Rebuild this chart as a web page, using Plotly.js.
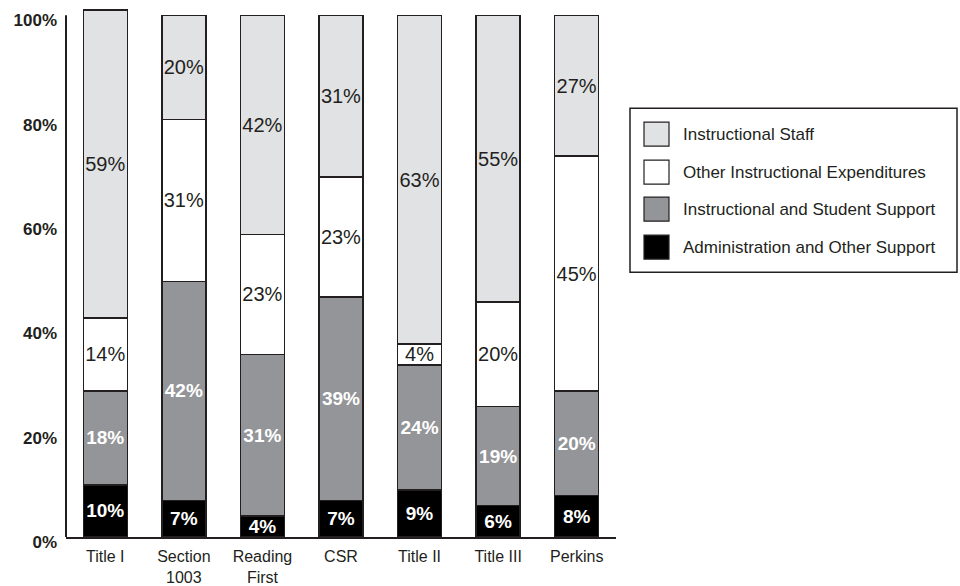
<!DOCTYPE html>
<html>
<head>
<meta charset="utf-8">
<script src="https://cdn.plot.ly/plotly-3.0.1.min.js"></script>
<style>html,body{margin:0;padding:0;background:#fff;}#chart{width:960px;height:586px;}</style>
</head>
<body>
<div id="chart"></div>
<script>
// ---- data ----
const categories = ['Title I', 'Section<br>1003', 'Reading<br>First', 'CSR', 'Title II', 'Title III', 'Perkins'];
const adminSupport = [10, 7, 4, 7, 9, 6, 8];          // Administration and Other Support
const studentSupport = [18, 42, 31, 39, 24, 19, 20];   // Instructional and Student Support
const otherExpend = [14, 31, 23, 23, 4, 20, 45];       // Other Instructional Expenditures
const instrStaff = [59, 20, 42, 31, 63, 55, 27];       // Instructional Staff
const seriesNames = ['Instructional Staff', 'Other Instructional Expenditures', 'Instructional and Student Support', 'Administration and Other Support'];
const yTicks = [0, 20, 40, 60, 80, 100];

// ---- styles ----
const FONT = 'Liberation Sans, Arial, Helvetica, sans-serif';
const INK = '#231f20';
const colors = {staff: '#e1e2e4', other: '#ffffff', support: '#939598', admin: '#000000'};

function barTrace(name, vals, color, dark) {
  return {
    type: 'bar', name: name, x: categories, y: vals,
    marker: {color: color, line: {color: INK, width: 1.5}},
    text: vals.map(v => v + '%'), texttemplate: '%{text}',
    textposition: 'inside', insidetextanchor: 'middle', textangle: 0,
    constraintext: 'none', cliponaxis: false,
    textfont: dark ? {family: FONT, size: 19, color: '#ffffff', weight: 'bold'}
                   : {family: FONT, size: 20, color: INK},
    hoverinfo: 'x+y+name', showlegend: false
  };
}

const data = [
  barTrace(seriesNames[3], adminSupport, colors.admin, true),
  barTrace(seriesNames[2], studentSupport, colors.support, true),
  barTrace(seriesNames[1], otherExpend, colors.other, false),
  barTrace(seriesNames[0], instrStaff, colors.staff, false)
];

// plot area in px: x 66..616, y 0%..101.2% -> 537..(537-101.2*5.22)
const YMAX = 101.2;
const L = 66, R = 616, B = 537, UNIT = 5.22;
const T = B - YMAX * UNIT;
const px = x => (x - L) / (R - L);
const py = y => (B - y) / (B - T);

// custom legend (swatches larger than Plotly's built-in bar swatches)
const legendColors = [colors.staff, colors.other, colors.support, colors.admin];
const rowY = [134, 172, 209, 247];
const shapes = [
  // y axis line from 0% to 100%
  {type: 'line', xref: 'paper', yref: 'y', x0: 0, x1: 0, y0: 0, y1: 100,
   line: {color: INK, width: 2}},
  {type: 'rect', xref: 'paper', yref: 'paper',
   x0: px(630), x1: px(957), y0: py(272), y1: py(108),
   line: {color: INK, width: 1.5}, fillcolor: '#ffffff', layer: 'below'}
];
const annotations = [];
seriesNames.forEach((n, i) => {
  shapes.push({
    type: 'rect', xref: 'paper', yref: 'paper',
    x0: px(644), x1: px(669), y0: py(rowY[i] + 12), y1: py(rowY[i] - 12),
    line: {color: INK, width: 1.2}, fillcolor: legendColors[i]
  });
  annotations.push({
    xref: 'paper', yref: 'paper', x: px(681), y: py(rowY[i]),
    xanchor: 'left', yanchor: 'middle', showarrow: false,
    text: n, font: {family: FONT, size: 17, color: INK}
  });
});

const layout = {
  width: 960, height: 586,
  margin: {l: L, r: 960 - R, t: T, b: 586 - B, pad: 0},
  paper_bgcolor: '#ffffff', plot_bgcolor: '#ffffff',
  barmode: 'stack', bargap: 0.44,
  showlegend: false,
  xaxis: {
    type: 'category', range: [-0.5, 6.5],
    showline: true, linecolor: INK, linewidth: 2,
    showgrid: false, zeroline: false, ticks: '',
    ticklabelstandoff: 4,
    tickfont: {family: FONT, size: 16, color: INK},
    fixedrange: true
  },
  yaxis: {
    range: [0, YMAX], tickvals: yTicks, ticktext: yTicks.map(v => v + '%'),
    showline: false,
    showgrid: false, zeroline: false, ticks: '',
    ticklabelstandoff: 8, ticklabelshift: 5,
    tickfont: {family: FONT, size: 17, color: INK, weight: 'bold'},
    fixedrange: true
  },
  shapes: shapes,
  annotations: annotations,
  font: {family: FONT, color: INK}
};

Plotly.newPlot('chart', data, layout, {displayModeBar: false, staticPlot: true});
</script>
</body>
</html>
